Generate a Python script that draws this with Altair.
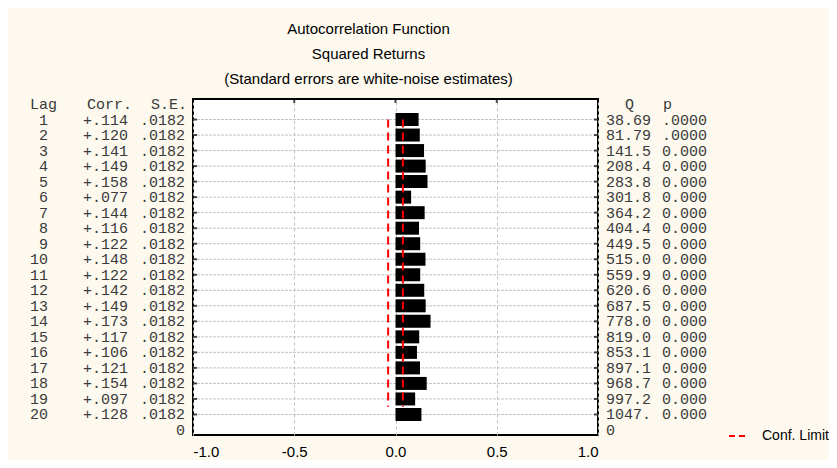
import altair as alt
import pandas as pd

lags = [1, 2, 3, 4, 5, 6, 7, 8, 9, 10, 11, 12, 13, 14, 15, 16, 17, 18, 19, 20]
corr = [0.114, 0.120, 0.141, 0.149, 0.158, 0.077, 0.144, 0.116, 0.122, 0.148,
        0.122, 0.142, 0.149, 0.173, 0.117, 0.106, 0.121, 0.154, 0.097, 0.128]
se = [0.0182, 0.0182, 0.0182, 0.0182, 0.0182, 0.0182, 0.0182, 0.0182, 0.0182, 0.0182,
      0.0182, 0.0182, 0.0182, 0.0182, 0.0182, 0.0182, 0.0182, 0.0182, 0.0182, 0.0182]
q_labels = ["38.69", "81.79", "141.5", "208.4", "283.8", "301.8", "364.2", "404.4", "449.5", "515.0",
            "559.9", "620.6", "687.5", "778.0", "819.0", "853.1", "897.1", "968.7", "997.2", "1047."]
p_labels = [".0000", ".0000", "0.000", "0.000", "0.000", "0.000", "0.000", "0.000", "0.000", "0.000",
            "0.000", "0.000", "0.000", "0.000", "0.000", "0.000", "0.000", "0.000", "0.000", "0.000"]
x_ticks = [-1.0, -0.5, 0.0, 0.5, 1.0]
inner_x_ticks = [-0.5, 0.0, 0.5]
title_lines = ["Autocorrelation Function", "Squared Returns",
               "(Standard errors are white-noise estimates)"]
conf_span = [1, 19.5]   # lag range covered by the confidence-limit lines
header_row = 0
zero_row = 21

df = pd.DataFrame({
    "lag": lags,
    "corr": corr,
    "base": [0.0] * len(lags),
    "se": se,
    "lag_txt": [str(v) for v in lags],
    "corr_txt": [("+" if c >= 0 else "-") + f"{abs(c):.3f}"[1:] for c in corr],
    "se_txt": [f"{s:.4f}"[1:] for s in se],
    "q_txt": q_labels,
    "p_txt": p_labels,
})

lim = 2 * se[0]
conf = pd.DataFrame({
    "x": [-lim, -lim, lim, lim],
    "lag": [conf_span[0], conf_span[1], conf_span[0], conf_span[1]],
    "side": ["lo", "lo", "hi", "hi"],
    "series": ["Conf. Limit"] * 4,
})

hdr = pd.DataFrame({"lag": [header_row], "lag_h": ["Lag"], "corr_h": ["Corr."], "se_h": ["S.E."],
                    "q_h": ["Q"], "p_h": ["p"]})
zero = pd.DataFrame({"lag": [zero_row], "t": ["0"]})
xt = pd.DataFrame({"x": inner_x_ticks})

xscale = alt.Scale(domain=[-1, 1], nice=False, zero=False)
yscale = alt.Scale(domain=[0, 21], reverse=True, nice=False, zero=False)

MONO = "Liberation Mono"
MS = 15
TC = "#3a3a3a"

hgrid = alt.Chart(df).mark_rule(strokeDash=[3, 1], color="#c4c4c4", strokeWidth=1).encode(
    y=alt.Y("lag:Q", scale=yscale, title=None,
            axis=alt.Axis(labels=False, ticks=False, domain=False, grid=False)),
    x=alt.value(0), x2=alt.value(405))

bars = alt.Chart(df).mark_bar(color="black", orient="horizontal", height=13).encode(
    x=alt.X("base:Q", scale=xscale, title=None,
            axis=alt.Axis(values=x_ticks, format=".1f",
                          labelExpr="replace(datum.label, '\u2212', '-')",
                          grid=True, gridDash=[3, 3],
                          gridColor="#c0c0c0", ticks=False, domain=False, labelPadding=9,
                          labelFont="Liberation Sans", labelFontSize=15, labelColor="black")),
    x2="corr:Q",
    y=alt.Y("lag:Q", scale=yscale),
)

conf_lines = alt.Chart(conf).mark_line(strokeDash=[8, 5], strokeWidth=2).encode(
    x=alt.X("x:Q", scale=xscale),
    y=alt.Y("lag:Q", scale=yscale),
    detail="side:N",
    order="lag:Q",
    color=alt.Color("series:N", scale=alt.Scale(domain=["Conf. Limit"], range=["#ff0000"]),
                    legend=alt.Legend(title=None, orient="none", legendX=535, legendY=326,
                                      symbolType="stroke", symbolSize=400, symbolStrokeWidth=2,
                                      symbolDash=[6, 4], labelFont="Liberation Sans",
                                      labelFontSize=14, labelColor="black", labelOffset=12,
                                      padding=0)),
)

left_ticks = alt.Chart(df).mark_tick(orient="horizontal", size=4, thickness=2, color="black").encode(
    x=alt.value(2), y=alt.Y("lag:Q", scale=yscale))
right_ticks = alt.Chart(df).mark_tick(orient="horizontal", size=4, thickness=2, color="black").encode(
    x=alt.value(403), y=alt.Y("lag:Q", scale=yscale))
top_ticks = alt.Chart(xt).mark_tick(orient="vertical", size=4, thickness=2, color="black").encode(
    x=alt.X("x:Q", scale=xscale), y=alt.value(2))


def col(data, field, xpix, align):
    return alt.Chart(data).mark_text(font=MONO, fontSize=MS, color=TC, align=align,
                                     baseline="middle").encode(
        x=alt.value(xpix), y=alt.Y("lag:Q", scale=yscale), text=f"{field}:N")


texts = [
    col(df, "lag_txt", -145, "right"),
    col(df, "corr_txt", -65, "right"),
    col(df, "se_txt", -8, "right"),
    col(df, "q_txt", 413, "left"),
    col(df, "p_txt", 469, "left"),
    col(hdr, "lag_h", -163, "left"),
    col(hdr, "corr_h", -61, "right"),
    col(hdr, "se_h", -6, "right"),
    col(hdr, "q_h", 432, "left"),
    col(hdr, "p_h", 470, "left"),
    col(zero, "t", -8, "right"),
    col(zero, "t", 413, "left"),
]

chart = alt.layer(hgrid, bars, conf_lines, left_ticks, right_ticks, top_ticks, *texts).properties(
    width=405, height=336,
    autosize=alt.AutoSizeParams(type="none"),
    padding={"left": 185, "top": 91, "right": 231, "bottom": 25},
    background="#FDF9EF",
    title=alt.TitleParams(text=title_lines, font="Liberation Sans", fontSize=15,
                          fontWeight="normal", color="black", lineHeight=25,
                          anchor="middle", offset=10, dx=-27),
).configure_view(fill="white", stroke="black", strokeWidth=2)

chart.save("out.html", embed_options={"renderer": "svg", "actions": False})
